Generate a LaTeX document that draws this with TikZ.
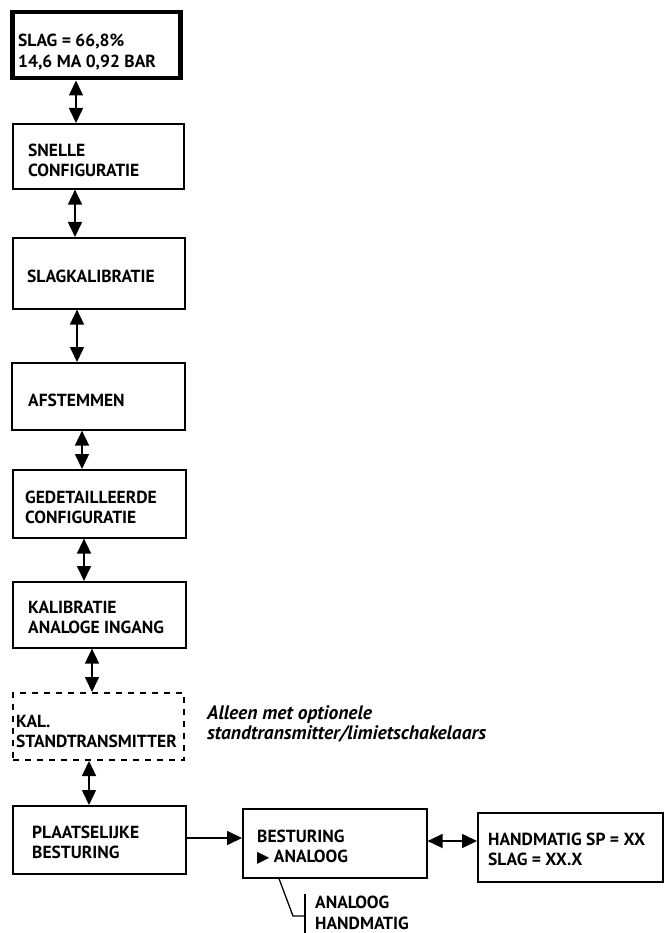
\documentclass[tikz,border=0pt]{standalone}
\usepackage{fontspec}
\setmainfont{PT Sans}
\newfontfamily\symfont{DejaVu Sans}
\usetikzlibrary{arrows.meta}
\begin{document}
\begin{tikzpicture}[x=1pt,y=-1pt,
  box/.style={draw, line width=1.6pt, rectangle, anchor=north west, inner sep=0pt},
  txt/.style={anchor=west, align=left, font=\fontsize{17.5}{20.5}\selectfont\bfseries, inner sep=0pt},
  note/.style={anchor=west, align=left, font=\fontsize{19.5}{20.5}\selectfont\bfseries\itshape, inner sep=0pt},
  dbl/.style={line width=1.6pt, {Triangle[length=15pt,width=14pt]}-{Triangle[length=15pt,width=14pt]}},
  sgl/.style={line width=1.6pt, -{Triangle[length=15pt,width=14pt]}},
  brk/.style={line width=1.3pt}]
\useasboundingbox (0,0) rectangle (664,933);
% boxes
\node[box, line width=4.5pt, minimum width=168pt, minimum height=66pt] (b1) at (10,10) {};
\node[box, minimum width=171pt, minimum height=65pt] (b2) at (12,123) {};
\node[box, minimum width=172pt, minimum height=71pt] (b3) at (12,237) {};
\node[box, minimum width=173pt, minimum height=67pt] (b4) at (11,362) {};
\node[box, minimum width=173pt, minimum height=68pt] (b5) at (12,469) {};
\node[box, minimum width=173pt, minimum height=66pt] (b6) at (12,581) {};
\node[box, line width=2pt, dash pattern=on 6pt off 6pt, minimum width=171pt, minimum height=67pt] (b7) at (12,692) {};
\node[box, minimum width=173pt, minimum height=68pt] (b8) at (12,805) {};
\node[box, minimum width=184pt, minimum height=69pt] (b9) at (242,808) {};
\node[box, minimum width=185pt, minimum height=69pt] (b10) at (477,812) {};
% texts
\node[txt] (t1) at (18,52) {SLAG = 66,8\%\\14,6 MA 0,92 BAR};
\node[txt] (t2) at (28,160.5) {SNELLE\\CONFIGURATIE};
\node[txt] (t3) at (27,276) {SLAGKALIBRATIE};
\node[txt] (t4) at (28,400) {AFSTEMMEN};
\node[txt] (t5) at (25,507.5) {GEDETAILLEERDE\\CONFIGURATIE};
\node[txt] (t6) at (28,617.5) {KALIBRATIE\\ANALOGE INGANG};
\node[txt] (t7) at (16,731.5) {KAL.\\STANDTRANSMITTER};
\node[txt] (t8) at (32,842.5) {PLAATSELIJKE\\BESTURING};
\node[txt] (t9) at (257,847) {BESTURING\\{\symfont\fontsize{16}{20}\selectfont ▶} ANALOOG};
\node[txt] (t10) at (488,849.5) {HANDMATIG SP = XX\\SLAG = XX.X};
\node[txt] (t11) at (315,913) {ANALOOG\\HANDMATIG};
\node[note] (n1) at (207,724) {Alleen met optionele\\standtransmitter/limietschakelaars};
% connectors
\draw[dbl] (b1.south -| 76,0) -- (b2.north -| 76,0);
\draw[dbl] (b2.south -| 75,0) -- (b3.north -| 75,0);
\draw[dbl] (b3.south -| 77,0) -- (b4.north -| 77,0);
\draw[dbl] (b4.south -| 82,0) -- (b5.north -| 82,0);
\draw[dbl] (b5.south -| 84,0) -- (b6.north -| 84,0);
\draw[dbl] (b6.south -| 92,0) -- (b7.north -| 92,0);
\draw[dbl] (b7.south -| 89,0) -- (b8.north -| 89,0);
\draw[sgl] (b8.east |- 0,838) -- (b9.west |- 0,838);
\draw[dbl] (b9.east |- 0,841) -- (b10.west |- 0,841);
% bracket
\coordinate (k1) at (293,916);
\coordinate (k2) at (305,916);
\coordinate (k3) at (305,894);
\coordinate (k4) at (305,933);
\draw[brk] (b9.south -| 279,0) -- (k1) -- (k2);
\draw[brk] (k3) -- (k4);
\end{tikzpicture}
\end{document}
